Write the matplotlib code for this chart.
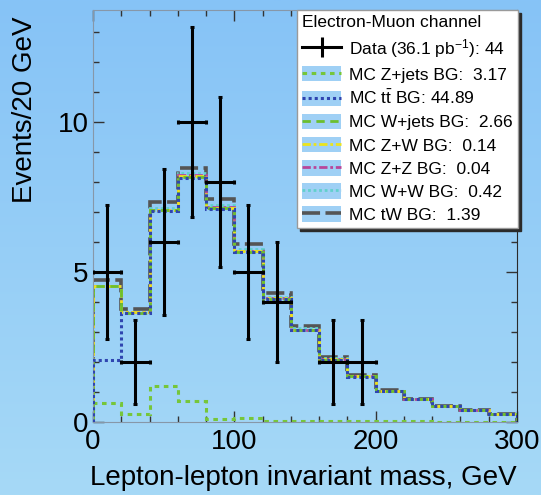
import numpy as np
import matplotlib
matplotlib.use("Agg")
from matplotlib import pyplot as plt
from matplotlib.patches import Patch
from matplotlib.lines import Line2D

plt.rcParams['font.family'] = ['Liberation Sans', 'DejaVu Sans']
plt.rcParams['mathtext.fontset'] = 'custom'
plt.rcParams['mathtext.rm'] = 'Liberation Sans'
plt.rcParams['mathtext.it'] = 'Liberation Sans:italic'

# 20 GeV bins from 0 to 300 GeV
edges = np.arange(0, 301, 20)
data_counts = [5, 2, 6, 10, 8, 5, 4, 0, 2, 2, 0, 0, 0, 0, 0]

zjets = [0.65, 0.28, 1.20, 0.70, 0.10, 0.12, 0.02, 0.02, 0.02, 0.02, 0.02, 0.02, 0.01, 0.01, 0.01]
ttbar = [1.42, 3.34, 5.82, 7.44, 7.00, 5.54, 4.07, 3.04, 2.05, 1.49, 1.01, 0.75, 0.52, 0.39, 0.25]
wjets = [2.46, 0.03, 0.03, 0.04, 0.03, 0.02, 0.02, 0.01, 0.01, 0.01, 0, 0, 0, 0, 0]
zw = [0.01, 0.01, 0.02, 0.03, 0.02, 0.02, 0.01, 0.01, 0.01, 0, 0, 0, 0, 0, 0]
zz = [0, 0, 0.01, 0.01, 0.01, 0.01, 0, 0, 0, 0, 0, 0, 0, 0, 0]
ww = [0, 0.02, 0.05, 0.07, 0.07, 0.06, 0.05, 0.04, 0.03, 0.02, 0.01, 0, 0, 0, 0]
tw = [0.18, 0.10, 0.20, 0.18, 0.22, 0.16, 0.13, 0.08, 0.05, 0.03, 0.02, 0.01, 0.01, 0.01, 0.01]

lumi = 36.1
mc_names = ['Z+jets', 't$\\bar{\\mathrm{t}}$', 'W+jets', 'Z+W', 'Z+Z', 'W+W', 'tW']
mc_totals = ['3.17', '44.89', '2.66', '0.14', '0.04', '0.42', '1.39']
mc_hists = [zjets, ttbar, wjets, zw, zz, ww, tw]
mc_styles = [
    dict(color='#76c63a', ls=(0, (1.5, 1.5)), lw=2.2),
    dict(color='#2f45b0', ls=(0, (1, 1)), lw=2.2),
    dict(color='#6cbf2e', ls=(0, (3, 2)), lw=2.0),
    dict(color='#ece41c', ls=(0, (3, 1, 1, 1)), lw=2.0),
    dict(color='#b8469a', ls=(0, (3, 1, 1, 1)), lw=2.0),
    dict(color='#62d0cc', ls=(0, (1, 1)), lw=2.0),
    dict(color='#555555', ls=(0, (5, 1.5)), lw=2.6),
]

fig = plt.figure(figsize=(5.41, 4.95), dpi=100)

# pale blue vertical gradient behind everything
bg = fig.add_axes([0, 0, 1, 1], zorder=-10)
grad = np.linspace(0, 1, 256).reshape(-1, 1)
top_c = np.array([0x86, 0xc3, 0xf7]) / 255
bot_c = np.array([0xa6, 0xd9, 0xf6]) / 255
img = top_c[None, None, :] * (1 - grad[..., None]) + bot_c[None, None, :] * grad[..., None]
bg.imshow(img, aspect='auto', extent=[0, 1, 0, 1])
bg.axis('off')

ax = fig.add_axes([93 / 541, 1 - 422 / 495, 424 / 541, 412.5 / 495])
ax.set_facecolor('none')

# stacked MC: each line is the running sum
cum = np.cumsum(np.array(mc_hists, dtype=float), axis=0)
draw_order = [6, 5, 4, 3, 2, 1]
for i in draw_order:
    ax.stairs(cum[i], edges, baseline=0, zorder=2 + (i == 1), **mc_styles[i])
# Z+jets on its own at the bottom
ax.stairs(cum[0], edges, baseline=0, zorder=2, **mc_styles[0])

centers = 0.5 * (edges[:-1] + edges[1:])
counts = np.array(data_counts, dtype=float)
nz = counts > 0
ax.errorbar(centers[nz], counts[nz], xerr=10, yerr=np.sqrt(counts[nz]),
            fmt='none', ecolor='black', elinewidth=2.2, capsize=1.2,
            capthick=2.2, zorder=5)

ax.set_xlim(0, 300)
ax.set_ylim(0, 13.75)
ax.set_xticks([0, 100, 200, 300])
ax.set_xticks(np.arange(0, 301, 20), minor=True)
ax.set_yticks([0, 5, 10])
ax.set_yticks(np.arange(0, 14, 1), minor=True)
ax.tick_params(which='both', direction='in', top=True, right=True,
               labelsize=20, colors='#333333', labelcolor='black')
ax.tick_params(which='major', length=8, width=1)
ax.tick_params(which='minor', length=4.5, width=1)
ax.tick_params(axis='x', pad=5)
ax.tick_params(axis='y', pad=3)
for side in ['left', 'bottom', 'top']:
    ax.spines[side].set_color('#8797a8')
ax.spines['right'].set_color('#2a2a2a')

ax.set_xlabel('Lepton-lepton invariant mass, GeV', fontsize=20, ha='right', va='center')
ax.xaxis.set_label_coords(1.0, -0.136)
ax.set_ylabel('Events/20 GeV', fontsize=20, ha='center', va='center')
ax.yaxis.set_label_coords(-0.161, 0.756)

# legend: data as a cross, MC as a filled box with the line style on top
data_handle = (Line2D([], [], color='black', lw=2.2),
               Line2D([], [], color='black', ls='none', marker='|', ms=14, mew=2.2))
handles = [data_handle]
labels = ['Data (%.1f pb$^{-1}$): %d' % (lumi, int(counts.sum()))]
for name, total, st in zip(mc_names, mc_totals, mc_styles):
    handles.append((Patch(facecolor='#9fd0f5', edgecolor='none'), Line2D([], [], **st)))
    gap = ' ' if name.startswith('t$') else '  '
    labels.append('MC %s BG:%s%s' % (name, gap, total))

leg = ax.legend(handles, labels, title='Electron-Muon channel', alignment='left',
                loc='upper right', bbox_to_anchor=(518 / 541, 1 - 10 / 495),
                bbox_transform=fig.transFigure, borderaxespad=0,
                fontsize=12.5, title_fontsize=12.5, frameon=True, fancybox=False,
                shadow={'color': '#2a2a2a', 'alpha': 1}, framealpha=1,
                edgecolor='#9a9a9a', facecolor='white', handlelength=2.25,
                handleheight=1.0, handletextpad=0.45, labelspacing=0.37,
                borderpad=0.3)
leg.get_frame().set_linewidth(1)
leg.set_zorder(10)

fig.savefig('out.png', dpi=100)
